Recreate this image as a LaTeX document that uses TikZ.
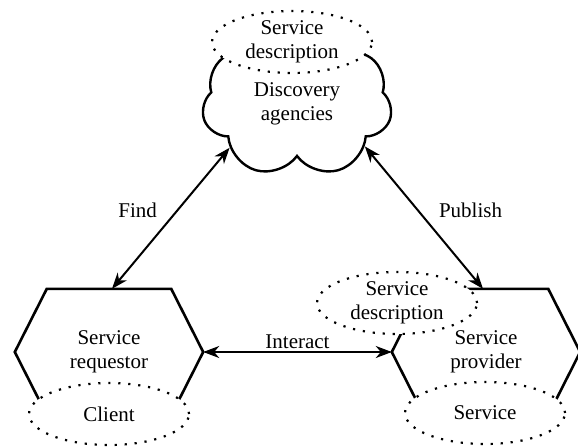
\documentclass[tikz,border=0pt]{standalone}
\usepackage{fontspec}
\setmainfont{Liberation Serif}
\usetikzlibrary{shapes.geometric,shapes.symbols}
\usetikzlibrary{arrows.meta}
\tikzset{
  role/.style={
    % The box: only holds the text, the hexagon is drawn round it
    shape=rectangle,minimum width=188bp,minimum height=126bp,
    inner sep=0pt,align=center},
  hexline/.style={line width=2.6bp,line join=miter},
  part/.style={
    % The shape:
    ellipse,minimum width=160bp,minimum height=62bp,inner sep=0pt,
    % The border: a dotted line
    line width=2.2bp,dash pattern=on 2.2bp off 7.8bp,draw=black,
    % The filling: white, so it hides what lies below
    fill=white,align=center}}
\tikzset{
	agency/.style={
		cloud,cloud puffs=7,cloud puff arc=140,
		minimum width=190bp,minimum height=118bp,inner sep=0pt,
		line width=2.4bp,draw,align=center},
	link/.style={
		{Stealth[length=16bp,width=12bp,inset=5bp]}-{Stealth[length=16bp,width=12bp,inset=5bp]},
		line width=2bp},
	tag/.style={inner sep=2bp}}

\begin{document}
\begin{tikzpicture}[x=1bp,y=-1bp,font=\fontsize{21bp}{24bp}\selectfont]
	\useasboundingbox (0,0) rectangle (578,448);
	% The three roles
	\node[agency] (da) at (297,104) {Discovery\\agencies};
	\node[role] (req) at (109,352) {Service\\requestor};
	\node[role] (prov) at (486,352) {Service\\provider};
	% Hexagons round the two lower roles
	\draw[hexline] (req.west) -- ([xshift=32bp]req.north west) -- ([xshift=-32bp]req.north east)
		-- (req.east) -- ([xshift=-32bp]req.south east) -- ([xshift=32bp]req.south west) -- cycle;
	\draw[hexline] (prov.west) -- ([xshift=32bp]prov.north west) -- ([xshift=-32bp]prov.north east)
		-- (prov.east) -- ([xshift=-32bp]prov.south east) -- ([xshift=32bp]prov.south west) -- cycle;
	% What each role holds
	\node[part] (desc) at (292,42) {Service\\description};
	\node[part] (pdesc) at (397,303) {Service\\description};
	\node[part] (client) at (109,414) {Client};
	\node[part] (serv) at (485,413) {Service};
	% Lines between the roles
	\draw[link] (da.213) -- ([xshift=3bp]req.north) node[pos=0.44,left=18bp,tag] {Find};
	\draw[link] (da.328) -- ([xshift=-3bp]prov.north) node[pos=0.45,right=18bp,tag] {Publish};
	\draw[link] (req.east) -- (prov.west) node[midway,above,tag] {Interact};
\end{tikzpicture}
\end{document}
